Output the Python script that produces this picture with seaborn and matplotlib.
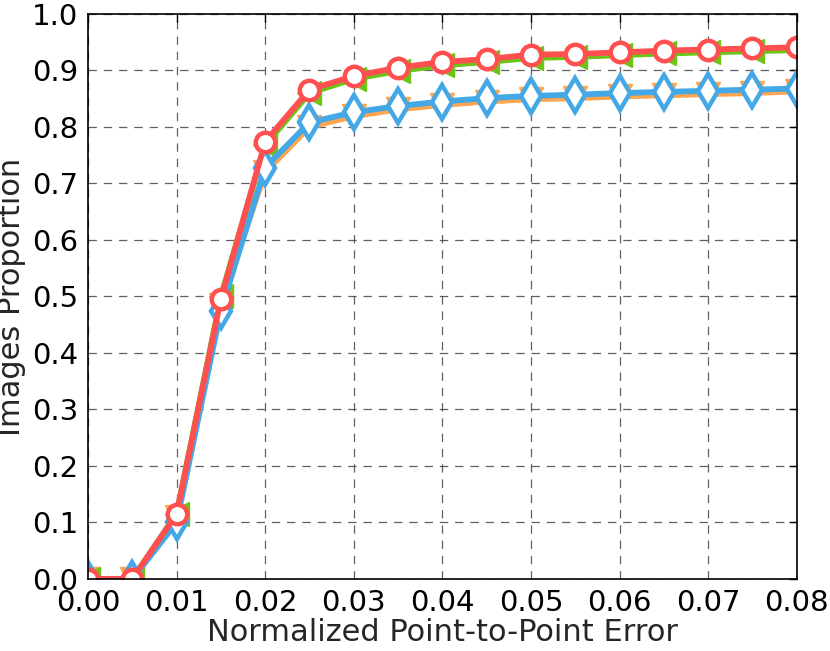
import matplotlib
matplotlib.use("Agg")
import matplotlib.pyplot as plt
import seaborn as sns
import pandas as pd

x_vals = [0.0, 0.005, 0.01, 0.015, 0.02, 0.025, 0.03, 0.035, 0.04, 0.045,
          0.05, 0.055, 0.06, 0.065, 0.07, 0.075, 0.08]
orange_vals = [0.0, 0.0, 0.11, 0.485, 0.72, 0.800, 0.819, 0.831, 0.839, 0.845,
               0.849, 0.851, 0.854, 0.856, 0.858, 0.860, 0.863]
green_vals = [0.0, 0.0, 0.115, 0.50, 0.768, 0.860, 0.885, 0.899, 0.909, 0.915,
              0.922, 0.924, 0.927, 0.930, 0.932, 0.934, 0.936]
blue_vals = [0.0, 0.0, 0.10, 0.475, 0.728, 0.808, 0.826, 0.837, 0.845, 0.851,
             0.855, 0.857, 0.860, 0.862, 0.864, 0.866, 0.868]
red_vals = [0.0, 0.0, 0.115, 0.496, 0.774, 0.866, 0.890, 0.905, 0.915, 0.920,
            0.928, 0.929, 0.932, 0.935, 0.937, 0.939, 0.941]

x_ticks = [0.0, 0.01, 0.02, 0.03, 0.04, 0.05, 0.06, 0.07, 0.08]
y_ticks = [0.0, 0.1, 0.2, 0.3, 0.4, 0.5, 0.6, 0.7, 0.8, 0.9, 1.0]

sns.set_style("white")
plt.rcParams['font.family'] = ['DejaVu Sans']
plt.rcParams['lines.scale_dashes'] = False

fig = plt.figure(figsize=(8.3, 6.51), dpi=100)
ax = fig.add_axes([0.106, 0.1106, 0.854, 0.868])

series = [
    ("orange", orange_vals, "#FFA550", "v", True, 17),
    ("green", green_vals, "#6CC417", "<", True, 17),
    ("blue", blue_vals, "#45A8E6", "d", False, 17),
    ("red", red_vals, "#FF4F4F", "o", False, 14),
]

for name, vals, col, mk, filled, ms in series:
    df = pd.DataFrame({"x": x_vals, "y": vals})
    sns.lineplot(data=df, x="x", y="y", ax=ax, color=col, linewidth=4.2,
                 marker=mk, markersize=ms,
                 markerfacecolor=col if filled else "white",
                 markeredgecolor=col, markeredgewidth=3.2 if not filled else 1,
                 clip_on=True)

ax.set_xlim(0, 0.08)
ax.set_ylim(0, 1.0)
ax.set_xticks(x_ticks)
ax.set_xticklabels([f"{t:.2f}" for t in x_ticks])
ax.set_yticks(y_ticks)
ax.set_yticklabels([f"{t:.1f}" for t in y_ticks])
ax.grid(True, color="#444444", linestyle=(0, (6, 5)), linewidth=0.9, alpha=0.85)
ax.set_axisbelow(True)
ax.tick_params(axis="both", direction="in", length=6, width=1, labelsize=21,
               top=True, right=True, colors="black", pad=7)
for s in ax.spines.values():
    s.set_visible(True)
    s.set_color("black")
    s.set_linewidth(1.2)
ax.set_xlabel("Normalized Point-to-Point Error", fontsize=22, labelpad=1)
ax.set_ylabel("Images Proportion", fontsize=22, labelpad=4)

fig.savefig("out.png", dpi=100)
